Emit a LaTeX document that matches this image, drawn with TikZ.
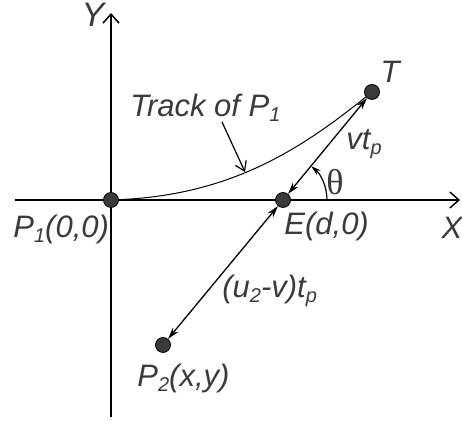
\documentclass[tikz,border=0pt]{standalone}
\usepackage{fontspec}
\setmainfont{Liberation Sans}
\newfontfamily\greekfont{Liberation Serif}
\usepackage{xcolor}
\usetikzlibrary{arrows.meta}

\definecolor{ink}{HTML}{3A3A3A}
\newcommand{\lsub}[1]{\raisebox{-2.2pt}{\fontsize{10}{10}\selectfont #1}}

\begin{document}
\begin{tikzpicture}[x=0.5pt, y=0.5pt,
  dot/.style={circle, fill=ink, draw=black, line width=0.4pt, minimum size=7.5pt, inner sep=0pt},
  lbl/.style={text=ink, font=\fontsize{15.5}{18}\selectfont\itshape, inner sep=0pt},
  axis/.style={line width=0.75pt, -{Straight Barb[length=4.5pt,width=8pt]}},
  dbl/.style={line width=0.65pt, {Stealth[length=6pt,width=3.5pt]}-{Stealth[length=6pt,width=3.5pt]}}]

\useasboundingbox (0,0) rectangle (462,421);

% Axes
\coordinate (xl) at (15,221);
\coordinate (xr) at (460,221);
\coordinate (yb) at (111,4);
\coordinate (yt) at (111,408);
\draw[axis] (xl) -- (xr);
\draw[axis] (yb) -- (yt);
\node[lbl] (Xlab) at (452,193) {X};
\node[lbl, font=\fontsize{17}{18}\selectfont\itshape] (Ylab) at (93,406) {Y};

% Points
\node[dot] (P1) at (111,221) {};
\node[dot] (E) at (283,221) {};
\node[dot] (T) at (372,329) {};
\node[dot] (P2) at (163,76) {};

% Track of P1
\draw[line width=0.5pt] (P1) .. controls (230,226) and (300,271) .. (T);
\coordinate (trackA) at (222,299);
\coordinate (trackB) at (245,249);
\draw[line width=0.6pt, -{Straight Barb[length=4.5pt,width=6pt]}] (trackA) -- (trackB);
\node[lbl, anchor=base west] (track) at (130,304) {Track of P\lsub{1}};

% Distances
\draw[dbl] (T) -- (E);
\draw[dbl] (E) -- (P2);

% Angle
\draw[line width=0.6pt, -{Stealth[length=5pt,width=3pt]}] (E.center) ++(44,0) arc[start angle=0, end angle=50, radius=44];
\node[text=ink, inner sep=0pt, font=\fontsize{18}{20}\selectfont\greekfont] (theta) at (335,239) {θ};

% Labels
\node[lbl] (Tlab) at (390,349) {T};
\node[lbl, anchor=base west] (P1lab) at (13,183) {P\lsub{1}(0,0)};
\node[lbl, anchor=base west] (Elab) at (284,186) {E(d,0)};
\node[lbl, anchor=base west] (vtp) at (346,271) {vt\lsub{p}};
\node[lbl, anchor=base west] (utp) at (222,123) {(u\lsub{2}-v)t\lsub{p}};
\node[lbl, anchor=base west] (P2lab) at (137,34) {P\lsub{2}(x,y)};

\end{tikzpicture}
\end{document}
